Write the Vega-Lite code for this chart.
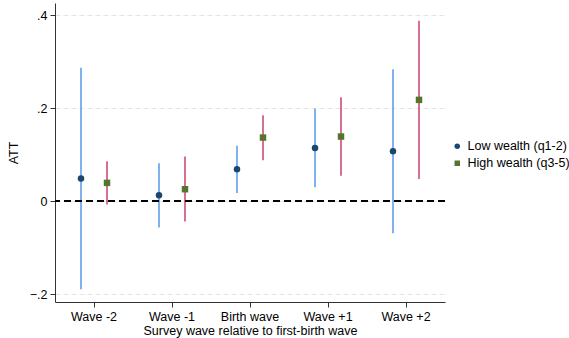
{
  "$schema": "https://vega.github.io/schema/vega-lite/v6.json",
  "width": 390,
  "height": 299,
  "autosize": {"type": "none"},
  "padding": {"left": 55, "top": 3, "right": 124, "bottom": 36},
  "background": "white",
  "config": {
    "font": "Liberation Sans",
    "view": {"stroke": null},
    "axis": {"labelFont": "Liberation Sans", "titleFont": "Liberation Sans", "labelFontSize": 12.5, "titleFontSize": 12.5, "titleFontWeight": "normal", "labelColor": "#000", "titleColor": "#000", "domainColor": "#333", "tickColor": "#333", "tickSize": 5},
    "legend": {"labelFont": "Liberation Sans", "labelFontSize": 12.5, "labelColor": "#000"}
  },
  "data": {
    "values": [
      {"wave": "Wave -2", "group": "Low wealth (q1-2)", "est": 0.0486, "lo": -0.189, "hi": 0.2867},
      {"wave": "Wave -1", "group": "Low wealth (q1-2)", "est": 0.0129, "lo": -0.0567, "hi": 0.0817},
      {"wave": "Birth wave", "group": "Low wealth (q1-2)", "est": 0.0688, "lo": 0.0178, "hi": 0.119},
      {"wave": "Wave +1", "group": "Low wealth (q1-2)", "est": 0.1146, "lo": 0.030, "hi": 0.199},
      {"wave": "Wave +2", "group": "Low wealth (q1-2)", "est": 0.1075, "lo": -0.0688, "hi": 0.2838},
      {"wave": "Wave -2", "group": "High wealth (q3-5)", "est": 0.0394, "lo": -0.0072, "hi": 0.086},
      {"wave": "Wave -1", "group": "High wealth (q3-5)", "est": 0.0258, "lo": -0.0438, "hi": 0.0959},
      {"wave": "Birth wave", "group": "High wealth (q3-5)", "est": 0.1368, "lo": 0.088, "hi": 0.185},
      {"wave": "Wave +1", "group": "High wealth (q3-5)", "est": 0.139, "lo": 0.055, "hi": 0.2236},
      {"wave": "Wave +2", "group": "High wealth (q3-5)", "est": 0.2178, "lo": 0.048, "hi": 0.388}
    ]
  },
  "encoding": {
    "x": {
      "field": "wave", "type": "nominal",
      "sort": ["Wave -2", "Wave -1", "Birth wave", "Wave +1", "Wave +2"],
      "scale": {"paddingInner": 0, "paddingOuter": 0},
      "axis": {"title": "Survey wave relative to first-birth wave", "labelAngle": 0, "labelPadding": 3, "titlePadding": 2, "grid": false}
    },
    "xOffset": {
      "field": "group", "type": "nominal",
      "sort": ["Low wealth (q1-2)", "High wealth (q3-5)"],
      "scale": {"paddingInner": 0, "paddingOuter": 0.5}
    }
  },
  "layer": [
    {
      "mark": {"type": "rule", "strokeWidth": 1.4},
      "encoding": {
        "y": {
          "field": "lo", "type": "quantitative",
          "scale": {"domain": [-0.2166, 0.426], "nice": false, "zero": false},
          "axis": {
            "title": "ATT", "values": [-0.2, 0, 0.2, 0.4],
            "labelExpr": "datum.value == 0 ? '0' : replace(format(datum.value, '.1f'), '0.', '.')",
            "grid": true, "gridColor": "#e6e6e6", "gridDash": [5, 3], "gridWidth": 1,
            "labelPadding": 3, "titlePadding": 9
          }
        },
        "y2": {"field": "hi"},
        "stroke": {
          "field": "group", "type": "nominal",
          "scale": {"domain": ["Low wealth (q1-2)", "High wealth (q3-5)"], "range": ["#4a93e6", "#c8325f"]},
          "legend": null
        }
      }
    },
    {
      "mark": {"type": "rule", "color": "#000", "strokeDash": [7, 4], "strokeWidth": 1.3},
      "encoding": {"y": {"datum": 0}, "xOffset": null, "x": null}
    },
    {
      "mark": {"type": "point", "filled": true, "opacity": 1, "size": 42, "strokeWidth": 0},
      "encoding": {
        "y": {"field": "est", "type": "quantitative"},
        "fill": {
          "field": "group", "type": "nominal",
          "scale": {"domain": ["Low wealth (q1-2)", "High wealth (q3-5)"], "range": ["#1a476f", "#55752f"]},
          "legend": {"title": null, "orient": "none", "legendX": 396, "legendY": 137, "symbolSize": 30, "labelOffset": 4, "rowPadding": 4, "symbolStrokeWidth": 0}
        },
        "shape": {
          "field": "group", "type": "nominal",
          "scale": {"domain": ["Low wealth (q1-2)", "High wealth (q3-5)"], "range": ["circle", "square"]},
          "legend": {"title": null, "orient": "none", "legendX": 396, "legendY": 137, "symbolSize": 30, "labelOffset": 4, "rowPadding": 4, "symbolStrokeWidth": 0}
        }
      }
    }
  ],
  "resolve": {"legend": {"stroke": "independent", "fill": "independent", "shape": "independent"}}
}
